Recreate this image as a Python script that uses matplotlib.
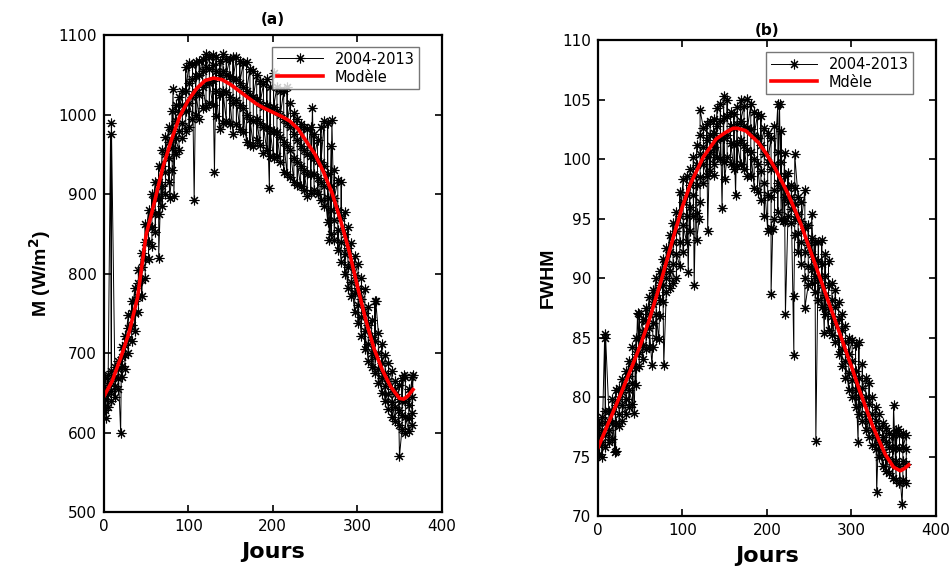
import matplotlib
matplotlib.use("Agg")
import matplotlib.pyplot as plt
import numpy as np

# ---------------- data ----------------
days = [1, 5, 9, 13, 17, 21, 25, 29, 33, 37, 41, 45, 49, 53, 57, 61, 65, 69, 73, 77,
        81, 85, 89, 93, 97, 101, 105, 109, 113, 117, 121, 125, 129, 133, 137, 141, 145,
        149, 153, 157, 161, 165, 169, 173, 177, 181, 185, 189, 193, 197, 201, 205, 209,
        213, 217, 221, 225, 229, 233, 237, 241, 245, 249, 253, 257, 261, 265, 269, 273,
        277, 281, 285, 289, 293, 297, 301, 305, 309, 313, 317, 321, 325, 329, 333, 337,
        341, 345, 349, 353, 357, 361, 365]

m_v1 = [628, 632, 640, 645, 655, 670, 680, 700, 715, 728, 752, 772, 795, 818, 835, 852, 875, 885, 900, 915,
        930, 950, 955, 970, 980, 985, 995, 1000, 995, 1008, 1010, 1015, 1012, 998, 982, 990, 992,
        988, 975, 988, 982, 978, 965, 962, 960, 968, 962, 952, 955, 948, 945, 948, 940,
        928, 925, 922, 915, 912, 910, 905, 898, 902, 905, 900, 892, 885, 865, 850, 842,
        830, 815, 800, 782, 772, 752, 738, 722, 705, 690, 682, 675, 662, 650, 640, 630,
        620, 615, 610, 605, 600, 602, 610]
m_v2 = [642, 648, 652, 658, 668, 684, 697, 718, 735, 750, 770, 792, 818, 840, 858, 875, 895, 910, 928, 945,
        958, 970, 980, 990, 1005, 1015, 1022, 1028, 1025, 1035, 1040, 1040, 1042, 1030, 1025, 1030, 1028,
        1022, 1015, 1018, 1012, 1008, 1000, 995, 992, 995, 990, 985, 985, 980, 980, 978, 972,
        965, 960, 955, 945, 940, 935, 930, 925, 925, 925, 920, 915, 910, 895, 880, 868,
        855, 840, 825, 808, 790, 775, 760, 745, 728, 712, 700, 695, 680, 668, 658, 648,
        638, 632, 628, 622, 620, 618, 625]
m_v3 = [655, 660, 665, 670, 680, 695, 710, 732, 750, 765, 788, 808, 840, 860, 878, 895, 915, 935, 950, 965,
        980, 992, 1003, 1012, 1030, 1040, 1045, 1048, 1050, 1055, 1060, 1058, 1062, 1055, 1050, 1055, 1050,
        1048, 1045, 1045, 1040, 1035, 1030, 1025, 1022, 1020, 1015, 1010, 1012, 1008, 1010, 1005, 1000,
        995, 990, 985, 975, 968, 960, 955, 950, 948, 945, 942, 940, 935, 925, 910, 895,
        880, 870, 850, 832, 812, 798, 782, 768, 750, 735, 720, 715, 700, 688, 675, 665,
        655, 648, 642, 640, 640, 635, 645]
m_v4 = [668, 672, 678, 683, 690, 708, 722, 748, 765, 782, 805, 826, 862, 880, 900, 915, 935, 955, 972, 985,
        1005, 1012, 1022, 1030, 1060, 1065, 1062, 1066, 1068, 1070, 1076, 1072, 1075, 1072, 1068, 1076, 1070,
        1070, 1072, 1072, 1068, 1065, 1066, 1058, 1055, 1050, 1042, 1038, 1045, 1035, 1052, 1035, 1030,
        1030, 1035, 1015, 1002, 995, 988, 985, 982, 985, 975, 968, 985, 992, 990, 960, 930,
        918, 915, 878, 858, 838, 822, 812, 795, 780, 758, 742, 765, 725, 712, 698, 688,
        678, 665, 660, 668, 670, 655, 670]
m_out_days = [3, 8, 9, 20, 65, 78, 82, 83, 107, 131, 196, 247, 267, 270, 322, 350, 355, 366]
m_out_vals = [618, 975, 990, 600, 820, 895, 1032, 897, 892, 928, 908, 1008, 842, 993, 765, 570, 672, 672]

m_model_days = [0, 10, 20, 30, 40, 50, 60, 70, 80, 90, 100, 110, 120, 130, 140, 150, 160, 170, 180,
                190, 200, 210, 220, 230, 240, 250, 260, 270, 280, 290, 300, 310, 320, 330, 340,
                350, 355, 360, 366]
m_model_vals = [645, 665, 694, 726, 770, 848, 890, 934, 968, 998, 1018, 1033, 1043, 1046, 1044, 1038,
                1030, 1022, 1014, 1008, 1003, 998, 992, 982, 966, 950, 928, 902, 868, 830, 785, 742,
                705, 678, 657, 643, 642, 646, 654]

f_v1 = [75.2, 75.0, 75.8, 76.2, 76.5, 75.5, 77.6, 78.0, 78.6, 79.2, 79.4, 81.0, 82.6, 83.2, 84.0, 84.2, 84.2, 85.0, 86.8, 88.0,
        88.8, 89.2, 89.6, 90.0, 91.0, 92.2, 93.0, 94.0, 95.2, 95.5, 96.4, 98.0, 98.6, 99.0, 99.6, 100.2, 100.0,
        99.8, 100.2, 99.6, 99.2, 99.4, 99.6, 99.2, 98.6, 98.6, 97.6, 97.2, 96.6, 95.2, 94.0, 94.2, 95.0,
        95.6, 95.0, 94.8, 95.2, 94.6, 93.6, 92.2, 91.2, 90.0, 89.4, 89.6, 88.8, 88.2, 87.6, 87.0, 85.6,
        85.2, 84.6, 83.6, 82.6, 81.6, 80.6, 80.0, 79.2, 78.6, 78.0, 77.2, 76.6, 76.0, 75.6, 75.0, 74.2,
        73.8, 73.6, 73.2, 73.0, 72.8, 73.0, 72.8]
f_v2 = [76.0, 76.2, 76.8, 77.2, 77.8, 77.8, 78.6, 79.3, 79.8, 80.6, 81.2, 82.4, 83.8, 84.4, 85.2, 85.8, 86.2, 87.0, 88.2, 89.4,
        90.0, 90.6, 91.2, 92.0, 93.0, 94.5, 95.2, 96.0, 97.0, 97.8, 98.5, 99.6, 100.2, 100.6, 101.0, 101.6, 101.8,
        101.8, 102.0, 101.4, 101.2, 101.4, 101.6, 101.2, 100.8, 100.6, 100.0, 99.6, 99.0, 98.0, 97.0, 96.8, 97.4,
        98.0, 97.6, 96.8, 96.4, 95.8, 95.0, 93.8, 93.0, 92.2, 91.0, 90.8, 90.2, 89.8, 89.4, 88.6, 87.6,
        86.8, 86.2, 85.0, 84.0, 83.0, 82.0, 81.4, 80.6, 80.0, 79.4, 78.6, 78.0, 77.2, 76.8, 76.2, 75.4,
        75.0, 74.8, 74.4, 74.6, 74.2, 74.6, 74.4]
f_v3 = [76.8, 77.2, 77.8, 78.0, 78.8, 79.3, 79.8, 80.4, 81.0, 81.8, 82.6, 83.6, 85.0, 85.5, 86.4, 87.0, 87.8, 88.6, 89.4, 90.5,
        91.2, 92.2, 93.0, 94.0, 95.2, 96.4, 97.0, 97.8, 98.6, 99.5, 100.4, 101.0, 101.6, 102.0, 102.2, 102.8, 103.2,
        103.5, 103.6, 102.8, 102.6, 103.0, 103.2, 102.8, 102.6, 102.5, 102.0, 101.8, 101.2, 100.4, 99.8, 99.2, 99.6,
        100.6, 99.8, 98.6, 97.6, 96.8, 96.2, 95.4, 94.8, 94.2, 92.8, 92.0, 91.6, 91.4, 91.2, 90.2, 89.4,
        88.2, 87.6, 86.6, 85.6, 84.6, 83.6, 83.0, 82.2, 81.6, 80.8, 80.0, 79.4, 78.6, 78.0, 77.4, 76.6,
        76.2, 75.8, 75.6, 75.8, 75.6, 75.8, 75.6]
f_v4 = [77.8, 78.3, 78.8, 78.8, 79.8, 80.6, 80.8, 81.5, 82.2, 83.0, 84.2, 85.0, 87.0, 86.6, 87.5, 88.4, 89.0, 90.0, 90.6, 91.6,
        92.5, 93.6, 94.6, 95.6, 97.2, 98.3, 98.6, 99.2, 100.2, 101.2, 102.0, 102.6, 103.0, 103.2, 103.4, 104.3, 104.6,
        105.3, 105.0, 104.0, 103.8, 104.4, 105.0, 104.5, 105.1, 104.6, 104.0, 103.8, 103.6, 102.6, 102.2, 101.8, 102.8,
        104.6, 102.4, 100.5, 98.8, 97.8, 97.6, 96.8, 96.4, 97.4, 94.5, 93.4, 93.0, 93.0, 93.2, 92.0, 91.4,
        89.6, 89.0, 88.0, 87.0, 86.0, 85.0, 84.8, 84.4, 84.6, 82.8, 81.6, 81.2, 80.0, 79.2, 78.6, 77.8,
        77.4, 77.0, 76.8, 77.2, 76.8, 77.0, 76.8]
f_out_days = [8, 9, 20, 43, 47, 64, 72, 78, 107, 114, 117, 120, 121, 130, 138, 147, 150, 163, 205, 207,
              215, 219, 222, 232, 232, 233, 245, 253, 258, 268, 308, 330, 350, 355, 360]
f_out_vals = [85.0, 85.3, 75.4, 78.7, 87.1, 82.7, 84.9, 82.7, 90.5, 89.4, 93.2, 95.0, 104.1, 94.0, 98.7,
              95.9, 98.3, 97.0, 88.7, 94.1, 104.6, 94.8, 87.0, 83.5, 88.5, 100.4, 87.5, 95.4, 76.3, 85.4,
              76.2, 72.0, 79.3, 77.3, 71.0]

f_model_days = [0, 10, 25, 40, 50, 60, 75, 90, 100, 110, 125, 140, 150, 160, 165, 175, 190, 200, 210,
                225, 240, 250, 260, 275, 290, 300, 310, 325, 340, 350, 358, 363, 368]
f_model_vals = [75.7, 77.4, 79.9, 82.5, 84.3, 86.3, 89.8, 93.6, 96.0, 98.0, 100.2, 101.7, 102.2, 102.6,
                102.6, 102.4, 101.4, 100.4, 99.2, 97.1, 94.6, 92.6, 90.6, 87.6, 84.6, 82.6, 80.5, 77.6,
                75.2, 74.1, 73.8, 74.0, 74.3]

x_ticks = [0, 100, 200, 300, 400]
m_ticks = [500, 600, 700, 800, 900, 1000, 1100]
f_ticks = [70, 75, 80, 85, 90, 95, 100, 105, 110]


def assemble(d, cols, od, ov):
    xs, ys = [], []
    for i, day in enumerate(d):
        vals = [c[i] for c in cols]
        order = [0, 3, 1, 2] if i % 2 == 0 else [3, 0, 2, 1]
        for k in order:
            xs.append(day)
            ys.append(vals[k])
    pts = list(zip(xs, ys)) + list(zip(od, ov))
    pts.sort(key=lambda p: p[0])
    return [p[0] for p in pts], [p[1] for p in pts]


plt.rcParams['font.family'] = ['DejaVu Sans']
fig = plt.figure(figsize=(9.52, 5.67), dpi=100)

ax1 = fig.add_axes([0.109, 0.097, 0.355, 0.841])
ax2 = fig.add_axes([0.628, 0.090, 0.355, 0.839])

mx, my = assemble(days, [m_v1, m_v2, m_v3, m_v4], m_out_days, m_out_vals)
fx, fy = assemble(days, [f_v1, f_v2, f_v3, f_v4], f_out_days, f_out_vals)

specs = [
    (ax1, mx, my, m_model_days, m_model_vals, m_ticks, (500, 1100), 'M (W/m$^\\mathbf{2}$)', '(a)', 'Modèle', 8),
    (ax2, fx, fy, f_model_days, f_model_vals, f_ticks, (70, 110), 'FWHM', '(b)', 'Mdèle', 4),
]

for ax, ox, oy, mdx, mdy, yt, ylim, ylab, title, mlabel, tpad in specs:
    ax.plot(ox, oy, color='black', lw=0.7, marker=(8, 2, 0), markersize=7,
            markeredgewidth=0.8, label='2004-2013')
    ax.plot(mdx, mdy, color='#ff0000', lw=2.6, label=mlabel)
    ax.set_xlim(0, 400)
    ax.set_ylim(*ylim)
    ax.set_xticks(x_ticks)
    ax.set_yticks(yt)
    ax.tick_params(direction='in', top=True, right=True, length=5, width=1.2,
                   labelsize=11, pad=5)
    for s in ax.spines.values():
        s.set_linewidth(1.6)
    ax.set_xlabel('Jours', fontsize=16, fontweight='bold', labelpad=6)
    ax.set_ylabel(ylab, fontsize=14, fontweight='bold',
                  family=['Liberation Sans Narrow', 'Liberation Sans', 'DejaVu Sans'])
    ax.set_title(title, fontsize=11, fontweight='bold', pad=tpad)
    leg = ax.legend(loc='upper right', fontsize=10.5, frameon=True, fancybox=False,
                    borderpad=0.3, handlelength=3.2, labelspacing=0.2,
                    bbox_to_anchor=(0.955, 0.99))
    leg.get_frame().set_edgecolor('#555555')
    leg.get_frame().set_linewidth(1.0)

fig.savefig('out.png', dpi=100)
